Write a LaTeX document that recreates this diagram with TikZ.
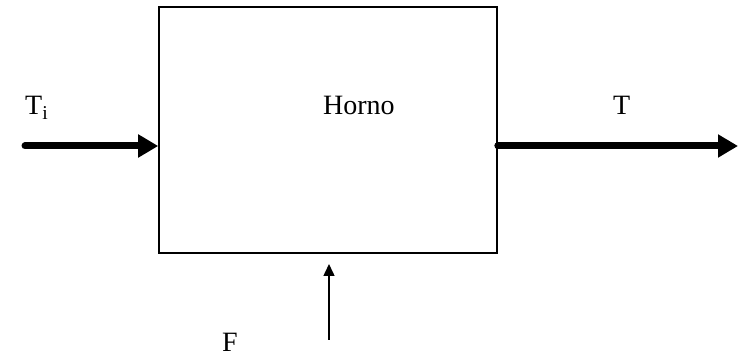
\documentclass[tikz,border=0pt]{standalone}
\usepackage{fontspec}
\setmainfont{Liberation Serif}
\usetikzlibrary{arrows.meta}

\begin{document}
\begin{tikzpicture}[
    x=1pt, y=1pt,
    % Estilos comunes para el bloque, los flujos y las etiquetas.
    every node/.style={font=\fontsize{28}{30}\selectfont, inner sep=0pt},
    bloque/.style={draw, line width=1.6pt, minimum width=338pt, minimum height=246pt},
    flujo/.style={line width=7pt, line cap=round, -{Triangle[length=20pt, width=22pt]}},
    entrada/.style={line width=1.5pt, -{Triangle[length=12pt, width=11pt]}},
    etiqueta/.style={anchor=base west}
]
\useasboundingbox (0,0) rectangle (738,358);

% Bloque del horno.
\node[bloque] (box) at (328,228) {};
\node[etiqueta] (horno) at (323,243) {Horno};

% Extremos libres de los flujos.
\coordinate (tin)  at (25,212);
\coordinate (tout) at (738,212);
\coordinate (fbot) at (329,18);
\coordinate (ftop) at (329,94);

% Flujos de temperatura y de combustible.
\draw[flujo] (tin) -- (tin -| box.west);
\draw[flujo] (tout -| box.east) -- (tout);
\draw[entrada] (fbot) -- (ftop);

% Etiquetas de las variables.
\node[etiqueta] (ti) at (25,243) {T\textsubscript{i}};
\node[etiqueta] (t)  at (613,243) {T};
\node[etiqueta] (f)  at (222,6) {F};
\end{tikzpicture}
\end{document}
